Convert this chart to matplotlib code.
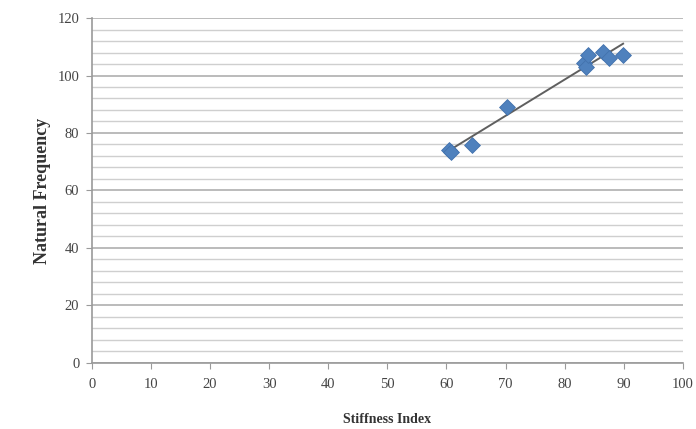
import numpy as np
import matplotlib.pyplot as plt
from matplotlib.ticker import MultipleLocator

# Stiffness index vs natural frequency
stiffness = [60.4, 60.7, 64.3, 70.2, 83.2, 83.6, 84.0, 86.5, 87.5, 89.9]
frequency = [74.1, 73.5, 75.8, 89.2, 104.2, 103.0, 107.1, 108.3, 106.0, 107.1]

fig = plt.figure(figsize=(6.96, 4.29), dpi=100)
ax = fig.add_axes([0.132, 0.154, 0.849, 0.804])

ax.set_xlim(0, 100)
ax.set_ylim(0, 120)
ax.xaxis.set_major_locator(MultipleLocator(10))
ax.yaxis.set_major_locator(MultipleLocator(20))
ax.yaxis.set_minor_locator(MultipleLocator(4))

ax.grid(True, which='major', axis='y', color='#a8a8a8', linewidth=1.1)
ax.grid(True, which='minor', axis='y', color='#cfcfcf', linewidth=1.0)
ax.set_axisbelow(True)

for s in ['top', 'right']:
    ax.spines[s].set_visible(False)
for s in ['left', 'bottom']:
    ax.spines[s].set_color('#9a9a9a')
    ax.spines[s].set_linewidth(1.2)

ax.tick_params(which='major', length=4, color='#9a9a9a', labelsize=10.5,
               labelcolor='#444444')
ax.tick_params(axis='x', pad=7)
ax.tick_params(axis='y', pad=5)
ax.tick_params(which='minor', length=0)
for lbl in ax.get_xticklabels() + ax.get_yticklabels():
    lbl.set_family('Liberation Serif')

# linear trend line
k, b = np.polyfit(stiffness, frequency, 1)
xs = np.array([min(stiffness), max(stiffness)])
ax.plot(xs, k * xs + b, color='#5f5f5f', linewidth=1.4, zorder=3)

ax.scatter(stiffness, frequency, marker='D', s=65, color='#4f81bd',
           edgecolors='#4272ad', linewidths=0.6, zorder=4)

ax.set_xlabel('Stiffness Index', family='Liberation Serif', fontweight='bold',
              fontsize=10, color='#333333', labelpad=16)
ax.set_ylabel('Natural Frequency', family='Liberation Serif', fontweight='bold',
              fontsize=13, color='#333333', labelpad=5)

fig.savefig('out.png', dpi=100)
